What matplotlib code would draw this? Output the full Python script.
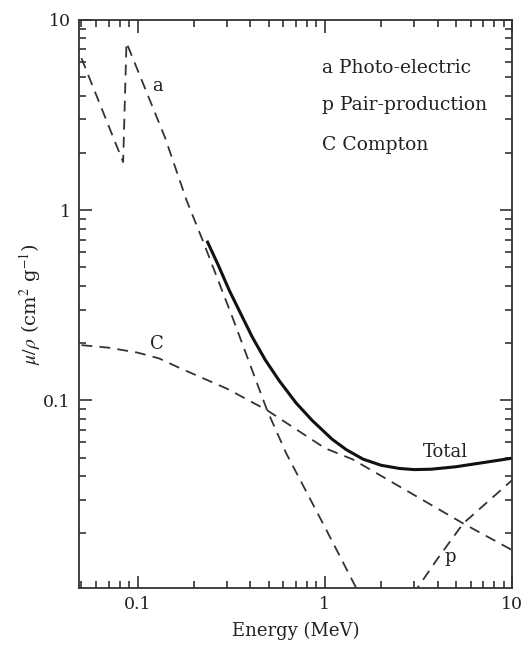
import matplotlib
matplotlib.use('Agg')
import matplotlib.pyplot as plt

plt.rcParams['font.family'] = ['DejaVu Serif']
plt.rcParams['mathtext.fontset'] = 'stix'

# values (energy in MeV, mu/rho in cm2/g)
photo_e = [0.05, 0.0835, 0.087, 0.14, 0.182, 0.222, 0.32, 0.491, 0.621, 1.0, 1.55]
photo_mu = [6.3, 1.79, 7.6, 2.4, 1.13, 0.695, 0.274, 0.0886, 0.0526, 0.0215, 0.0093]

compton_e = [0.05, 0.07, 0.1, 0.13, 0.167, 0.3, 0.491, 1.0, 1.4, 2.0, 5.48, 10.0]
compton_mu = [0.195, 0.189, 0.178, 0.166, 0.148, 0.115, 0.0886, 0.056, 0.049, 0.040, 0.0225, 0.0163]

pair_e = [2.95, 4.0, 5.48, 10.0]
pair_mu = [0.0095, 0.0147, 0.0225, 0.038]

total_e = [0.236, 0.27, 0.308, 0.355, 0.409, 0.48, 0.569, 0.7, 0.853, 1.09, 1.3, 1.6, 2.0,
           2.5, 3.0, 3.7, 5.0, 7.0, 10.0]
total_mu = [0.679, 0.51, 0.379, 0.285, 0.215, 0.163, 0.127, 0.097, 0.0785, 0.0625, 0.055, 0.049,
            0.0455, 0.0438, 0.0432, 0.0434, 0.0447, 0.047, 0.0496]

fig = plt.figure(figsize=(5.22, 6.45), dpi=100)
ax = fig.add_axes([0.1513, 0.0884, 0.8297, 0.8806])

dash = dict(color='#333333', lw=1.3, dashes=(6, 4))
ax.plot(photo_e, photo_mu, **dash)
ax.plot(compton_e, compton_mu, **dash)
ax.plot(pair_e, pair_mu, **dash)
ax.plot(total_e, total_mu, color='#111111', lw=2.2)

ax.set_xscale('log')
ax.set_yscale('log')
ax.set_xlim(0.0485, 10)
ax.set_ylim(0.0103, 10)

ax.set_xticks([0.1, 1, 10], ['0.1', '1', '10'])
ax.set_yticks([0.1, 1, 10], ['0.1', '1', '10'])
ax.tick_params(which='both', direction='in', top=True, right=True,
               labelsize=12.5, width=1.2, color='#333333', labelcolor='#222222')
ax.tick_params(which='major', length=9, pad=6)
ax.tick_params(which='minor', length=5)
for s in ax.spines.values():
    s.set_linewidth(1.3)
    s.set_color('#333333')

ax.set_xlabel('Energy (MeV)', fontsize=13, labelpad=6, color='#222222')
ax.set_ylabel(r'$\mu/\rho$ (cm$^2$ g$^{-1}$)', fontsize=14, labelpad=0, color='#222222')

# curve labels
ax.text(0.128, 4.5, 'a', fontsize=13, ha='center', va='center', color='#222222')
ax.text(0.126, 0.197, 'C', fontsize=13, ha='center', va='center', color='#222222')
ax.text(4.4, 0.0532, 'Total', fontsize=13, ha='center', va='center', color='#222222')
ax.text(4.67, 0.0149, 'p', fontsize=13, ha='center', va='center', color='#222222')

# key
key = ['a Photo-electric', 'p Pair-production', 'C Compton']
key_y = [0.915, 0.850, 0.780]
for t, y in zip(key, key_y):
    ax.text(0.561, y, t, fontsize=13.5, ha='left', va='center', color='#222222',
            transform=ax.transAxes)

fig.savefig('out.png', dpi=100)
